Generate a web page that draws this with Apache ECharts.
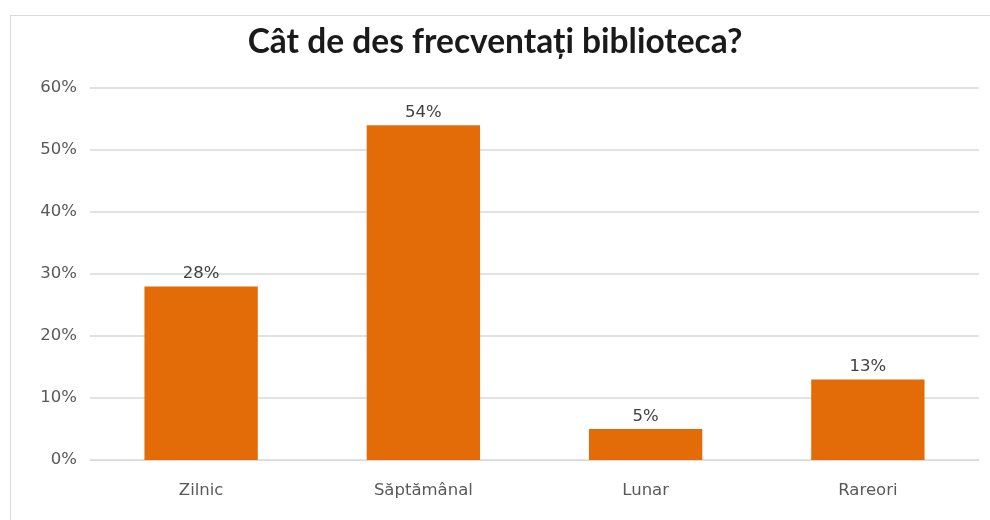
<!DOCTYPE html>
<html><head><meta charset="utf-8">
<script src="https://cdn.jsdelivr.net/npm/echarts@6/dist/echarts.min.js"></script>
<style>html,body{margin:0;padding:0;background:#fff}#c{width:990px;height:520px}
#b{position:absolute;left:10px;top:15px;width:990px;height:520px;border:1px solid #d9d9d9;box-sizing:border-box;pointer-events:none}</style>
</head><body><div id="c"></div><div id="b"></div>
<script>
const categories = ['Zilnic', 'Săptămânal', 'Lunar', 'Rareori'];
const values = [28, 54, 5, 13];
const yTicks = [0, 10, 20, 30, 40, 50, 60];
const titleText = 'Cât de des frecventați biblioteca?';
const chart = echarts.init(document.getElementById('c'));
chart.setOption({
  animation: false,
  title: {text: titleText, left: 'center', top: 20, textStyle: {fontFamily: 'Lato', fontSize: 33.5, fontWeight: 'bold', color: '#1a1a1a'}},
  grid: {left: 90, right: 11, top: 88, bottom: 60},
  xAxis: {type: 'category', data: categories,
    axisLine: {lineStyle: {color: '#d9d9d9'}}, axisTick: {show: false},
    axisLabel: {color: '#595959', fontFamily: 'DejaVu Sans', fontSize: 16.5, margin: 22}},
  yAxis: {type: 'value', min: 0, max: 60, interval: 10,
    axisLine: {show: false}, axisTick: {show: false},
    splitLine: {lineStyle: {color: '#d9d9d9', width: 1.5}},
    axisLabel: {color: '#595959', fontFamily: 'DejaVu Sans', fontSize: 16.5, margin: 13,
      formatter: v => yTicks.includes(v) ? v + '%' : ''}},
  series: [{type: 'bar', data: values, barWidth: '51%', itemStyle: {color: '#E36C09'},
    label: {show: true, position: 'top', distance: 4, color: '#404040', fontFamily: 'DejaVu Sans', fontSize: 16.5, formatter: p => p.value + '%'}}]
});
</script></body></html>
